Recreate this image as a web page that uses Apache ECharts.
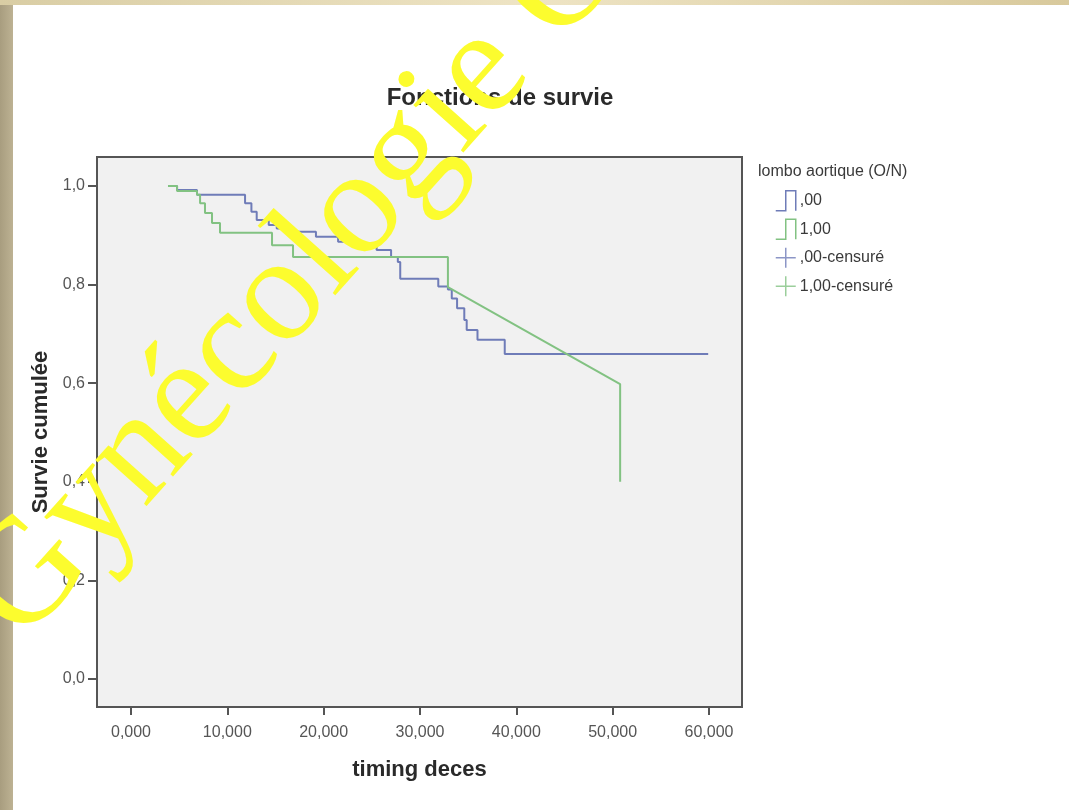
<!DOCTYPE html>
<html>
	<head>
		<meta charset="UTF-8">
		<title>Fonctions de survie</title>
		<style>
			body{margin:0;background:#fff;}
		</style>
	</head>
	<body>
		<div id="box" style="width: 1069px;height: 810px;"></div>

		<script type="text/javascript" src="https://cdn.jsdelivr.net/npm/echarts@6/dist/echarts.min.js"></script>
		<script type="text/javascript">
			// temps (mois) et survie cumulée
			var blueTimes = [3.84, 4.78, 6.85, 11.84, 12.5, 13.05, 14.3, 15.13, 16.2, 19.2, 21.5, 23.3, 25.5, 27.0, 27.7, 27.95, 31.9, 32.9, 33.3, 33.85, 34.6, 34.85, 35.97, 38.8];
			var blueSurv = [1.0, 0.992, 0.982, 0.965, 0.948, 0.931, 0.921, 0.914, 0.907, 0.897, 0.887, 0.877, 0.870, 0.856, 0.846, 0.812, 0.796, 0.790, 0.772, 0.752, 0.728, 0.708, 0.688, 0.659];
			var blueEnd = 59.92;

			var greenTimes = [3.84, 4.78, 6.85, 7.17, 7.68, 8.41, 9.24, 14.64, 16.82, 32.9];
			var greenSurv = [1.0, 0.99, 0.982, 0.965, 0.945, 0.925, 0.905, 0.88, 0.856, 0.795];
			var greenTailTimes = [50.78, 50.78];
			var greenTailSurv = [0.598, 0.40];

			var xTicks = [0, 10, 20, 30, 40, 50, 60];
			var yTicks = [0, 0.2, 0.4, 0.6, 0.8, 1.0];

			function steps(times, surv){
				var pts = [];
				for(var i = 0; i < times.length; i++){
					if(i > 0){
						pts.push([times[i], surv[i - 1]]);
					}
					pts.push([times[i], surv[i]]);
				}
				return pts;
			}

			var blueData = steps(blueTimes, blueSurv);
			blueData.push([blueEnd, blueSurv[blueSurv.length - 1]]);

			var greenData = steps(greenTimes, greenSurv);
			greenTailTimes.forEach(function(t, i){
				greenData.push([t, greenTailSurv[i]]);
			});

			var BLUE = '#6f7cb8';
			var GREEN = '#82c282';
			var stepIcon = 'path://M0,20 L10,20 L10,0 L20,0 L20,20';
			var plusIcon = 'path://M10,0 L10,20 M0,10 L20,10';

			var box = document.getElementById('box');
			var myechart = echarts.init(box);

			var option = {
				backgroundColor: '#ffffff',
				animation: false,
				title: [{
					text: 'Fonctions de survie',
					left: 495,
					top: 81,
					textAlign: 'center',
					textStyle: {fontFamily: 'Liberation Sans', fontSize: 24, fontWeight: 'bold', color: '#2a2a2a'}
				}, {
					text: 'lombo aortique (O/N)',
					left: 758,
					top: 164,
					padding: 0,
					textStyle: {fontFamily: 'Liberation Sans', fontSize: 16, fontWeight: 'normal', color: '#3a3a3a'}
				}],
				legend: {
					orient: 'vertical',
					left: 775,
					top: 190,
					padding: 0,
					itemWidth: 22,
					itemHeight: 20,
					itemGap: 7,
					textStyle: {fontFamily: 'Liberation Sans', fontSize: 16, color: '#3a3a3a', padding: [0, 0, 0, -2]},
					data: [
						{name: ',00', icon: stepIcon, itemStyle: {color: 'transparent', borderColor: BLUE, borderWidth: 1.5}},
						{name: '1,00', icon: stepIcon, itemStyle: {color: 'transparent', borderColor: GREEN, borderWidth: 1.5}},
						{name: ',00-censuré', icon: plusIcon, itemStyle: {color: 'transparent', borderColor: BLUE, borderWidth: 1.5}},
						{name: '1,00-censuré', icon: plusIcon, itemStyle: {color: 'transparent', borderColor: GREEN, borderWidth: 1.5}}
					]
				},
				grid: {
					show: true,
					left: 97,
					top: 157,
					width: 645,
					height: 550,
					backgroundColor: '#f1f1f1',
					borderColor: '#555555',
					borderWidth: 2
				},
				xAxis: {
					type: 'value',
					min: -3.53,
					max: 63.43,
					name: 'timing deces',
					nameLocation: 'middle',
					nameGap: 52,
					nameTextStyle: {fontFamily: 'Liberation Sans', fontSize: 22, fontWeight: 'bold', color: '#2a2a2a'},
					axisLine: {show: false, onZero: false},
					splitLine: {show: false},
					axisTick: {show: true, length: 8, customValues: xTicks, lineStyle: {color: '#555555', width: 2}},
					axisLabel: {
						customValues: xTicks,
						margin: 18,
						fontFamily: 'Liberation Sans',
						fontSize: 16,
						color: '#555555',
						formatter: function(v){ return v.toFixed(3).replace('.', ','); }
					}
				},
				yAxis: {
					type: 'value',
					min: -0.0568,
					max: 1.0588,
					name: 'Survie cumulée',
					nameLocation: 'middle',
					nameGap: 44,
					nameTextStyle: {fontFamily: 'Liberation Sans', fontSize: 22, fontWeight: 'bold', color: '#2a2a2a'},
					axisLine: {show: false, onZero: false},
					splitLine: {show: false},
					axisTick: {show: true, length: 9, customValues: yTicks, lineStyle: {color: '#555555', width: 2}},
					axisLabel: {
						customValues: yTicks,
						margin: 12,
						fontFamily: 'Liberation Sans',
						fontSize: 16,
						color: '#555555',
						formatter: function(v){ return v.toFixed(1).replace('.', ','); }
					}
				},
				series: [{
					name: ',00',
					type: 'line',
					showSymbol: false,
					color: BLUE,
					lineStyle: {width: 2, color: BLUE},
					data: blueData
				}, {
					name: '1,00',
					type: 'line',
					showSymbol: false,
					color: GREEN,
					lineStyle: {width: 2, color: GREEN},
					data: greenData
				}, {
					name: ',00-censuré',
					type: 'scatter',
					color: BLUE,
					symbol: plusIcon,
					data: []
				}, {
					name: '1,00-censuré',
					type: 'scatter',
					color: GREEN,
					symbol: plusIcon,
					data: []
				}],
				graphic: [{
					type: 'rect',
					left: 0,
					top: 0,
					z: 50,
					shape: {width: 13, height: 810},
					style: {fill: new echarts.graphic.LinearGradient(0, 0, 1, 0, [{offset: 0, color: '#a89d7f'}, {offset: 1, color: '#bdb293'}])}
				}, {
					type: 'rect',
					left: 0,
					top: 0,
					z: 50,
					shape: {width: 1069, height: 5},
					style: {fill: new echarts.graphic.LinearGradient(0, 0, 1, 0, [{offset: 0, color: '#d9cda4'}, {offset: 0.5, color: '#eee4c4'}, {offset: 1, color: '#d8c99c'}])}
				}, {
					type: 'text',
					x: 297,
					y: 279,
					rotation: 0.84,
					z: 100,
					style: {
						text: 'Gynécologie O',
						font: '150px "Liberation Serif"',
						fill: '#fcfc2e',
						align: 'center',
						verticalAlign: 'middle'
					}
				}]
			};

			myechart.setOption(option);
		</script>
	</body>
</html>
